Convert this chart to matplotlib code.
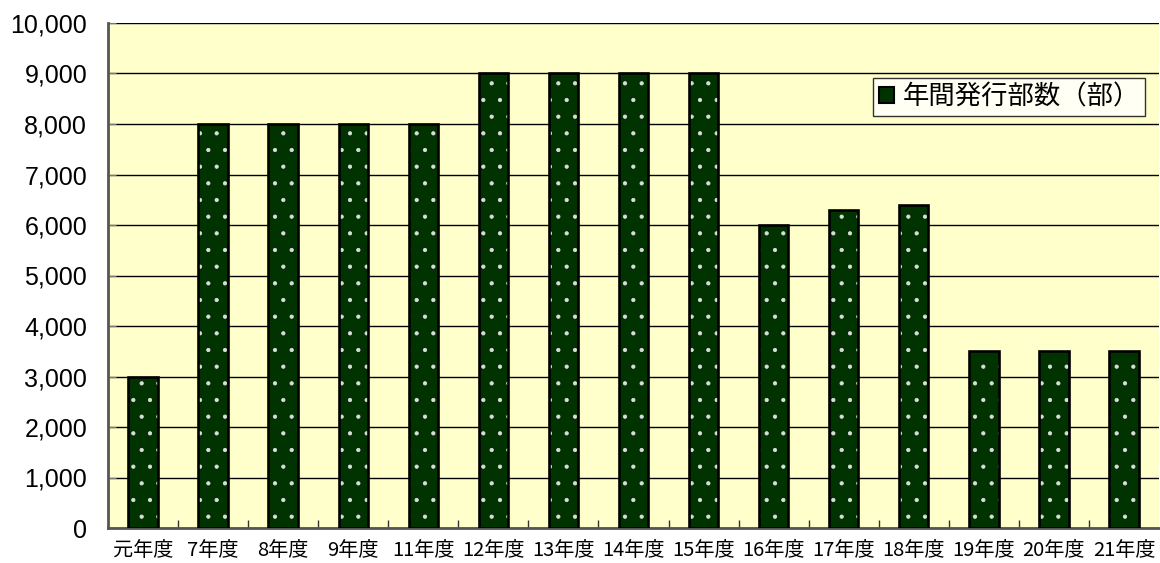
import matplotlib
matplotlib.use("Agg")
import matplotlib.pyplot as plt
from matplotlib.ticker import FuncFormatter, FixedLocator
from matplotlib.patches import Patch
import numpy as np

categories = ["元年度", "7年度", "8年度", "9年度", "11年度", "12年度", "13年度", "14年度",
              "15年度", "16年度", "17年度", "18年度", "19年度", "20年度", "21年度"]
values = [3000, 8000, 8000, 8000, 8000, 9000, 9000, 9000, 9000, 6000, 6300, 6400, 3500, 3500, 3500]
series_name = "年間発行部数（部）"

plt.rcParams['font.family'] = ['Noto Sans CJK JP', 'DejaVu Sans']
plt.rcParams['hatch.linewidth'] = 0.6

fig = plt.figure(figsize=(11.6, 5.63), dpi=100)
ax = fig.add_axes([108/1160, 35/563, (1159-108)/1160, (528-23)/563])
ax.set_facecolor('#FFFFCC')

x = np.arange(len(categories))
w = 0.42
ax.bar(x, values, width=w, color='#003300', edgecolor='#dddddd', hatch='.', linewidth=0, zorder=3)
ax.bar(x, values, width=w, color='none', edgecolor='black', linewidth=1.9, zorder=4)

ax.set_xlim(-0.5, len(categories) - 0.5)
ax.set_ylim(0, 10000)
ax.yaxis.set_major_locator(FixedLocator(np.arange(0, 10001, 1000)))
ax.yaxis.set_major_formatter(FuncFormatter(lambda v, p: f"{int(v):,}"))
ax.grid(axis='y', color='black', linewidth=1, zorder=1)

ax.set_xticks(x)
ax.set_xticklabels(categories, fontsize=14.5)
ax.tick_params(axis='x', length=0, pad=9)
ax.set_xticks(np.arange(0.5, len(categories) - 0.5, 1), minor=True)
ax.tick_params(axis='x', which='minor', direction='in', length=6, color='#333333', width=1)
ax.tick_params(axis='y', direction='in', length=6, color='#777777', labelsize=18, pad=15)
for lab in ax.get_yticklabels():
    lab.set_fontfamily(['Liberation Sans', 'DejaVu Sans'])

for s in ['top', 'right']:
    ax.spines[s].set_visible(False)
ax.spines['left'].set_color('#555555')
ax.spines['left'].set_linewidth(2)
ax.spines['bottom'].set_color('#555555')
ax.spines['bottom'].set_linewidth(2)

handle = Patch(facecolor='#003300', edgecolor='black', linewidth=1.5)
leg = ax.legend([handle], [series_name], loc='upper right', bbox_to_anchor=(0.9867, 0.891),
                fontsize=19, frameon=True, fancybox=False, borderpad=0.2,
                handlelength=0.6, handleheight=0.6, handletextpad=0.3, borderaxespad=0)
leg.get_frame().set_edgecolor('black')
leg.get_frame().set_linewidth(1)
leg.get_frame().set_facecolor('white')
leg.set_zorder(10)

fig.savefig("out.png", dpi=100)
